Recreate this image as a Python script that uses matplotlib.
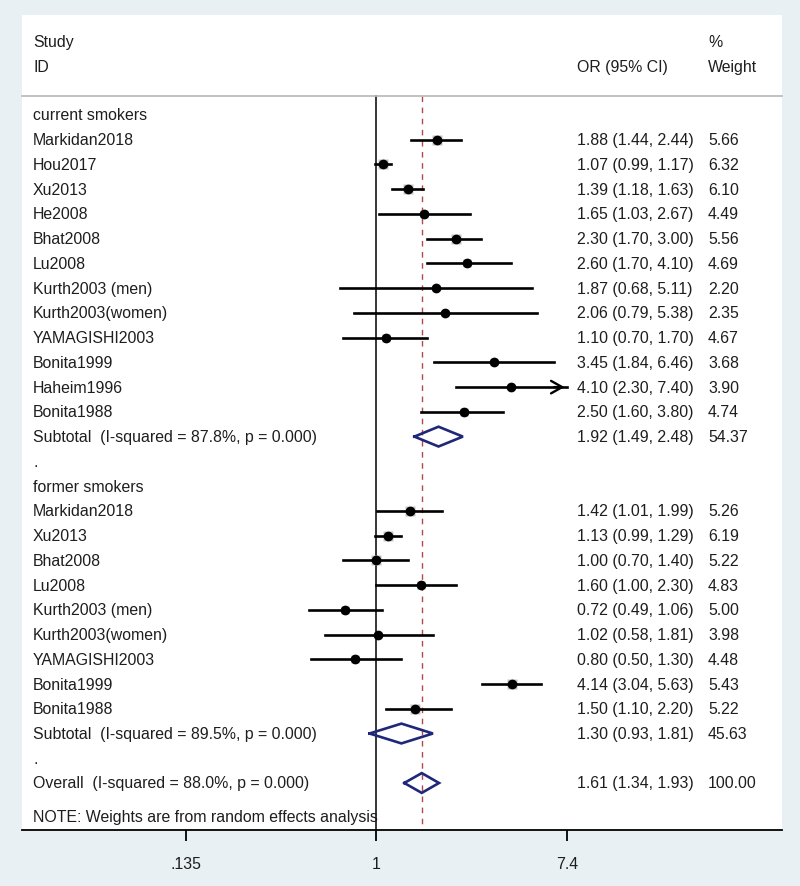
import numpy as np
import matplotlib
matplotlib.use('Agg')
import matplotlib.pyplot as plt
import matplotlib.transforms as mtransforms

plt.rcParams['font.family'] = ['Liberation Sans', 'DejaVu Sans']

# ---- data ----
current_ids = ['Markidan2018', 'Hou2017', 'Xu2013', 'He2008', 'Bhat2008', 'Lu2008',
               'Kurth2003 (men)', 'Kurth2003(women)', 'YAMAGISHI2003', 'Bonita1999',
               'Haheim1996', 'Bonita1988']
current_or = [1.88, 1.07, 1.39, 1.65, 2.30, 2.60, 1.87, 2.06, 1.10, 3.45, 4.10, 2.50]
current_lo = [1.44, 0.99, 1.18, 1.03, 1.70, 1.70, 0.68, 0.79, 0.70, 1.84, 2.30, 1.60]
current_hi = [2.44, 1.17, 1.63, 2.67, 3.00, 4.10, 5.11, 5.38, 1.70, 6.46, 7.40, 3.80]
current_w = [5.66, 6.32, 6.10, 4.49, 5.56, 4.69, 2.20, 2.35, 4.67, 3.68, 3.90, 4.74]

former_ids = ['Markidan2018', 'Xu2013', 'Bhat2008', 'Lu2008', 'Kurth2003 (men)',
              'Kurth2003(women)', 'YAMAGISHI2003', 'Bonita1999', 'Bonita1988']
former_or = [1.42, 1.13, 1.00, 1.60, 0.72, 1.02, 0.80, 4.14, 1.50]
former_lo = [1.01, 0.99, 0.70, 1.00, 0.49, 0.58, 0.50, 3.04, 1.10]
former_hi = [1.99, 1.29, 1.40, 2.30, 1.06, 1.81, 1.30, 5.63, 2.20]
former_w = [5.26, 6.19, 5.22, 4.83, 5.00, 3.98, 4.48, 5.43, 5.22]

groups = ['current smokers', 'former smokers']
subtotal_labels = ['Subtotal  (I-squared = 87.8%, p = 0.000)',
                   'Subtotal  (I-squared = 89.5%, p = 0.000)']
subtotal_or = [1.92, 1.30]
subtotal_lo = [1.49, 0.93]
subtotal_hi = [2.48, 1.81]
subtotal_w = [54.37, 45.63]

overall_label = 'Overall  (I-squared = 88.0%, p = 0.000)'
overall_est = [1.61, 1.34, 1.93, 100.00]
note = 'NOTE: Weights are from random effects analysis'

tick_vals = [0.135, 1, 7.4]
tick_labels = ['.135', '1', '7.4']

# ---- styles ----
bg = '#e9f0f3'
txt_col = '#1e1e1e'
dia_col = '#1f2878'
fs = 11.4
x_lab, x_ci, x_w = 0.0145, 0.730, 0.9026

fig = plt.figure(figsize=(8, 8.87), dpi=100)
fig.patch.set_facecolor(bg)
ax = fig.add_axes([22 / 800, 56 / 887, 760 / 800, 815 / 887])
ax.set_facecolor('white')
ax.set_xscale('log')
ax.set_xlim(0.0241, 71.0)
ax.set_ylim(28.90, -4.04)
for s in ['top', 'left', 'right']:
    ax.spines[s].set_visible(False)
ax.spines['bottom'].set_linewidth(1.3)
ax.set_yticks([])
ax.set_xticks(tick_vals)
ax.set_xticklabels(tick_labels, fontsize=fs, color=txt_col)
ax.minorticks_off()
ax.tick_params(axis='x', length=8, width=1.3, pad=11)

trans = mtransforms.blended_transform_factory(ax.transAxes, ax.transData)


def put(xf, y, s):
    ax.text(xf, y, s, transform=trans, fontsize=fs, color=txt_col, va='center', ha='left')


def ci_text(o, lo, hi):
    return '{:.2f} ({:.2f}, {:.2f})'.format(o, lo, hi)


def diamond(o, lo, hi, y, h=0.4):
    ax.plot([lo, o, hi, o, lo], [y, y - h, y, y + h, y], color=dia_col, lw=1.9,
            solid_joinstyle='miter', zorder=4)


# header
put(x_lab, -2.95, 'Study')
put(x_lab, -1.94, 'ID')
put(x_ci, -1.94, 'OR (95% CI)')
put(x_w, -2.95, '%')
put(x_w, -1.94, 'Weight')
ax.plot([0, 1], [-0.77, -0.77], transform=trans, color='#b8b8b8', lw=1.2, clip_on=False)

# reference lines
ax.plot([1, 1], [-0.77, 28.90], color='black', lw=1.1, zorder=1)
ax.plot([overall_est[0]] * 2, [-0.77, 28.90], color='#b04a4a', lw=1.0,
        dashes=(4, 4), zorder=1)

x_max = tick_vals[-1]
row = 0
studies = [(current_ids, current_or, current_lo, current_hi, current_w),
           (former_ids, former_or, former_lo, former_hi, former_w)]
for g, (ids, ors, los, his, ws) in enumerate(studies):
    put(x_lab, row, groups[g])
    row += 1
    for name, o, lo, hi, w in zip(ids, ors, los, his, ws):
        put(x_lab, row, name)
        put(x_ci, row, ci_text(o, lo, hi))
        put(x_w, row, '{:.2f}'.format(w))
        ax.plot(o, row, marker='s', ms=w * 1.25, color='#c4c4c4', mec='none', zorder=2)
        if hi >= x_max:
            ax.plot([lo, x_max], [row, row], color='black', lw=1.9, zorder=3)
            ax.annotate('', xy=(x_max * 1.005, row), xytext=(x_max * 0.85, row),
                        arrowprops=dict(arrowstyle='->,head_length=0.8,head_width=0.45',
                                        color='black', lw=1.7), zorder=3)
        else:
            ax.plot([lo, hi], [row, row], color='black', lw=1.9, zorder=3)
        ax.plot(o, row, 'o', color='black', ms=6.0, zorder=4)
        row += 1
    put(x_lab, row, subtotal_labels[g])
    put(x_ci, row, ci_text(subtotal_or[g], subtotal_lo[g], subtotal_hi[g]))
    put(x_w, row, '{:.2f}'.format(subtotal_w[g]))
    diamond(subtotal_or[g], subtotal_lo[g], subtotal_hi[g], row)
    row += 1
    put(x_lab, row, '.')
    row += 1

put(x_lab, row, overall_label)
put(x_ci, row, ci_text(*overall_est[:3]))
put(x_w, row, '{:.2f}'.format(overall_est[3]))
diamond(overall_est[0], overall_est[1], overall_est[2], row)
put(x_lab, row + 1.37, note)

fig.savefig('out.png', dpi=100, facecolor=bg)
